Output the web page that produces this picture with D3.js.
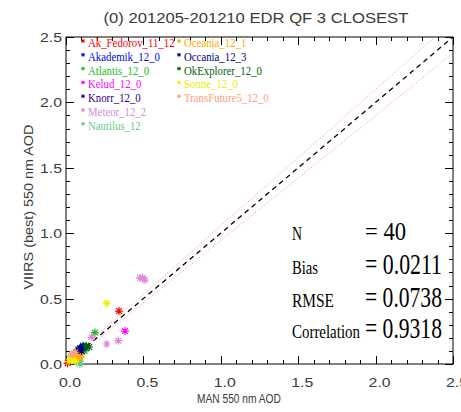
<!DOCTYPE html>
<html><head><meta charset="utf-8">
<script src="https://cdn.jsdelivr.net/npm/d3@7"></script>
<style>body{margin:0;background:#fff}svg{display:block}</style>
</head><body>
<svg id="c" width="461" height="412"></svg>
<script>
// ---- data ----
const titleText = "(0) 201205-201210 EDR QF 3 CLOSEST";
const xTitle = "MAN 550 nm AOD";
const yTitle = "VIIRS (best) 550 nm AOD";
const tickValues = [0, 0.5, 1.0, 1.5, 2.0, 2.5];
const tickLabels = ["0.0", "0.5", "1.0", "1.5", "2.0", "2.5"];
const shipNames = ["Ak_Fedorov_11_12", "Akademik_12_0", "Atlantis_12_0", "Kelud_12_0", "Knorr_12_0",
  "Meteor_12_2", "Nautilus_12", "Oceania_12_1", "Occania_12_3", "OkExplorer_12_0", "Sonne_12_0", "TransFuture5_12_0"];
const pointShip = [0,0, 1,1,1,1, 2,2, 3, 4,4, 5,5,5,5,5,5,5, 6,6, 7,7,7,7,7, 8,8,8,8, 9,9, 10,10,10,10,10,10, 11,11,11];
const manAOD   = [0.342,0.01, 0.12,0.10,0.13,0.11, 0.187,0.12, 0.381, 0.08,0.09, 0.478,0.51,0.495,0.338,0.263,0.166,0.03, 0.09,0.09, 0.08,0.09,0.06,0.07,0.10, 0.09,0.10,0.08,0.11, 0.13,0.15, 0.263,0.04,0.05,0.03,0.06,0.02, 0.04,0.06,0.05];
const viirsAOD = [0.405,0.005, 0.13,0.11,0.12,0.14, 0.24,0.10, 0.252, 0.10,0.085, 0.657,0.642,0.66,0.178,0.153,0.204,0.06, 0.02,0.0, 0.07,0.05,0.06,0.04,0.075, 0.12,0.10,0.11,0.13, 0.14,0.13, 0.464,0.05,0.03,0.04,0.02,0.02, 0.07,0.09,0.08];
const statLabels = ["N", "Bias", "RMSE", "Correlation"];
const statValues = ["40", "0.0211", "0.0738", "0.9318"];
const envelope = [0.01, 0.045]; // +/- (a + b*x)

// ---- style ----
const shipColors = ["#ff0000", "#0000ff", "#22bb22", "#ff00ff", "#2a0088", "#dd88dd",
  "#66cc88", "#ffaa00", "#000080", "#006400", "#eeee00", "#ffa07a"];

const svg = d3.select("#c");
const L = 66, R = 453, T = 37, B = 364;
const x = d3.scaleLinear().domain([0, 2.5]).range([L, R]);
const y = d3.scaleLinear().domain([0, 2.5]).range([B, T]);
const minor = d3.range(0, 25.01, 1).map(d => d / 10);

// text fitted to a width through a horizontal scale
function fitText(g, str, px, py, width, opts) {
  const t = g.append("text").attr("font-family", opts.family).attr("font-size", opts.size)
    .attr("fill", opts.fill).text(str);
  const natural = t.node().getComputedTextLength();
  const s = width / natural;
  const anchor = opts.anchor || "start";
  const x0 = anchor === "middle" ? px - width / 2 : anchor === "end" ? px - width : px;
  const rot = opts.rotate ? ` rotate(${opts.rotate})` : "";
  if (opts.rotate) {
    t.attr("transform", `translate(${px},${py})${rot} translate(${-width / 2},0) scale(${s},1)`);
  } else {
    t.attr("transform", `translate(${x0},${py}) scale(${s},1)`);
  }
  return t;
}

// frame
svg.append("rect").attr("x", L).attr("y", T).attr("width", R - L).attr("height", B - T)
  .attr("fill", "none").attr("stroke", "#000").attr("stroke-width", 1);

// ticks on all four sides, inward
const tg = svg.append("g").attr("stroke", "#000").attr("stroke-width", 1);
minor.forEach(v => {
  const major = Math.abs(v * 2 - Math.round(v * 2)) < 1e-6;
  const len = major ? 8 : 4;
  const px = Math.round(x(v)) + 0.5, py = Math.round(y(v)) + 0.5;
  tg.append("line").attr("x1", px).attr("x2", px).attr("y1", B).attr("y2", B - len);
  tg.append("line").attr("x1", px).attr("x2", px).attr("y1", T).attr("y2", T + len);
  tg.append("line").attr("y1", py).attr("y2", py).attr("x1", L).attr("x2", L + len);
  tg.append("line").attr("y1", py).attr("y2", py).attr("x1", R).attr("x2", R - len);
});

const sans = "'Liberation Sans', Arial, sans-serif";
const serif = "'Liberation Serif', 'Times New Roman', serif";
const grey = "#3a3a3a";
const axOpts = { family: sans, size: 13, fill: grey };

// tick labels
tickValues.forEach((v, i) => {
  fitText(svg, tickLabels[i], x(v) + 4, 387, 22, { ...axOpts, anchor: "middle" });
  fitText(svg, tickLabels[i], 62, y(v) + 5, 22, { ...axOpts, anchor: "end" });
});

// titles
fitText(svg, titleText, 256, 23, 305, { family: sans, size: 14, fill: grey, anchor: "middle" });
fitText(svg, xTitle, 239, 403, 84, { ...axOpts, anchor: "middle" });
fitText(svg, yTitle, 33, 207, 165, { ...axOpts, rotate: -90 });

// clip
svg.append("clipPath").attr("id", "clip").append("rect")
  .attr("x", L).attr("y", T).attr("width", R - L).attr("height", B - T);
const plot = svg.append("g").attr("clip-path", "url(#clip)");

// envelope dotted lines
const xs = [0, 2.5];
const line = d3.line().x(d => x(d[0])).y(d => y(d[1]));
[1, -1].forEach(s => {
  plot.append("path").attr("d", line(xs.map(v => [v, v + s * (envelope[0] + envelope[1] * v)])))
    .attr("fill", "none").attr("stroke", "#ff8c8c").attr("stroke-width", 1).attr("stroke-dasharray", "1,2");
});
// 1:1 dashed
plot.append("path").attr("d", line(xs.map(v => [v, v])))
  .attr("fill", "none").attr("stroke", "#000").attr("stroke-width", 1.3).attr("stroke-dasharray", "5,4");

// asterisk
function star(g, cx, cy, r, color, w) {
  const a = r * Math.SQRT1_2;
  const d = `M${cx - r},${cy}L${cx + r},${cy}M${cx},${cy - r}L${cx},${cy + r}` +
    `M${cx - a},${cy - a}L${cx + a},${cy + a}M${cx - a},${cy + a}L${cx + a},${cy - a}`;
  g.append("path").attr("d", d).attr("stroke", color).attr("stroke-width", w).attr("fill", "none");
}
const pg = svg.append("g");
manAOD.forEach((mv, i) => star(pg, x(mv), y(viirsAOD[i]), 4, shipColors[pointShip[i]], 1.2));

// legend
const lg = svg.append("g");
shipNames.forEach((n, i) => {
  const col = i < 7 ? 0 : 1, row = i < 7 ? i : i - 7;
  const ax = col === 0 ? 83 : 179, tx = col === 0 ? 88 : 184;
  const by = 47 + row * 13.8;
  star(lg, ax, by - 6, 2, shipColors[i], 1);
  lg.append("text").attr("transform", `translate(${tx},${by}) scale(0.8,1)`)
    .attr("font-family", serif).attr("font-size", 13.5).attr("fill", shipColors[i]).text(n);
});

// stats
const sg = svg.append("g");
const rowsY = [240, 273.5, 307, 338];
const labW = [10, 26, 42, 68];
statLabels.forEach((s, i) => {
  fitText(sg, s, 292, rowsY[i], labW[i], { family: serif, size: 19, fill: "#000" });
  fitText(sg, "= " + statValues[i], 365, rowsY[i], i === 0 ? 41 : 77,
    { family: serif, size: i === 0 ? 25 : 29, fill: "#000" });
});
</script>
</body></html>
